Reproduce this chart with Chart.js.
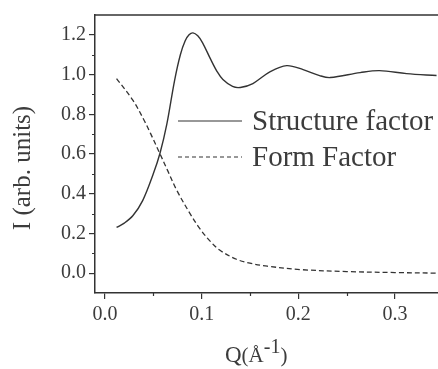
<!DOCTYPE html>
<html lang="en">
<head>
  <meta charset="UTF-8">
  <title>Structure and form factor</title>
  <script src="https://cdn.jsdelivr.net/npm/chart.js"></script>
  <style>
    html, body {
      margin: 0;
      padding: 0;
      background: #fff;
    }
    #wrap {
      width: 438px;
      height: 369px;
    }
  </style>
</head>
<body>

<div id="wrap">
  <canvas id="sqChart" width="438" height="369"></canvas>
</div>

<script>
  // Q values (1/Å) and intensities for each curve
  const qStructure = [0.012, 0.020, 0.029, 0.039, 0.050, 0.057, 0.064, 0.072, 0.078, 0.083, 0.087, 0.091,
    0.096, 0.101, 0.109, 0.116, 0.122, 0.132, 0.140, 0.153, 0.171, 0.188, 0.205, 0.222, 0.233, 0.264, 0.284, 0.312, 0.343];
  const structureFactor = [0.23, 0.252, 0.29, 0.365, 0.50, 0.605, 0.75, 0.97, 1.10, 1.17, 1.20, 1.21,
    1.195, 1.16, 1.08, 1.015, 0.975, 0.94, 0.935, 0.955, 1.015, 1.045, 1.025, 0.995, 0.985, 1.01, 1.02, 1.005, 0.995];

  const qForm = [0.012, 0.029, 0.041, 0.047, 0.057, 0.065, 0.074, 0.088, 0.098, 0.109, 0.119, 0.136,
    0.150, 0.168, 0.202, 0.250, 0.300, 0.345];
  const formFactor = [0.98, 0.87, 0.765, 0.705, 0.60, 0.515, 0.42, 0.30, 0.225, 0.16, 0.115, 0.07,
    0.05, 0.035, 0.018, 0.008, 0.003, 0.0];

  const xMajor = [0.0, 0.1, 0.2, 0.3];
  const xMinor = [0.05, 0.15, 0.25];
  const yMajor = [0.0, 0.2, 0.4, 0.6, 0.8, 1.0, 1.2];
  const yMinor = [0.1, 0.3, 0.5, 0.7, 0.9, 1.1];

  const seriesNames = ["Structure factor", "Form Factor"];

  const INK = "#333";
  const TEXT = "#3c3c3c";
  const SERIF = "'Liberation Serif', 'DejaVu Serif', serif";

  const toPoints = (xs, ys) => xs.map((x, i) => ({ x: x, y: ys[i] }));

  // top frame line, minor ticks, legend and axis titles
  const extras = {
    id: "extras",
    afterDraw(chart) {
      const { ctx, chartArea: a, scales: { x, y } } = chart;
      ctx.save();
      ctx.strokeStyle = INK;
      ctx.lineWidth = 1.5;
      ctx.beginPath();
      ctx.moveTo(a.left, a.top);
      ctx.lineTo(a.right, a.top);
      ctx.stroke();

      ctx.lineWidth = 1.2;
      ctx.beginPath();
      yMinor.forEach(v => {
        const py = Math.round(y.getPixelForValue(v)) + 0.5;
        ctx.moveTo(a.left - 3, py);
        ctx.lineTo(a.left, py);
      });
      xMinor.forEach(v => {
        const px = Math.round(x.getPixelForValue(v)) + 0.5;
        ctx.moveTo(px, a.bottom);
        ctx.lineTo(px, a.bottom + 3);
      });
      ctx.stroke();

      // legend
      const sets = chart.data.datasets;
      const lx0 = a.left + 83, lx1 = a.left + 147;
      const rows = [a.top + 106, a.top + 142];
      ctx.font = "29px " + SERIF;
      ctx.fillStyle = TEXT;
      ctx.textBaseline = "middle";
      ctx.textAlign = "left";
      sets.forEach((ds, i) => {
        ctx.setLineDash(i === 1 ? [4, 3] : []);
        ctx.lineWidth = 1.2;
        ctx.strokeStyle = ds.borderColor;
        ctx.beginPath();
        ctx.moveTo(lx0, rows[i]);
        ctx.lineTo(lx1, rows[i]);
        ctx.stroke();
        ctx.fillText(ds.label, lx1 + 10, rows[i] + 1);
      });
      ctx.setLineDash([]);

      // y title
      ctx.save();
      ctx.translate(23, 168);
      ctx.rotate(-Math.PI / 2);
      ctx.textAlign = "center";
      ctx.font = "25px " + SERIF;
      ctx.fillText("I (arb. units)", 0, 0);
      ctx.restore();

      // x title with superscript
      ctx.textBaseline = "alphabetic";
      ctx.textAlign = "left";
      let tx = 225;
      const base = 362;
      const parts = [
        ["Q", 23, 0],
        ["(Å", 21, 0],
        ["-1", 20, -9],
        [")", 21, 0]
      ];
      parts.forEach(([s, size, dy]) => {
        ctx.font = size + "px " + SERIF;
        ctx.fillText(s, tx, base + dy);
        tx += ctx.measureText(s).width;
      });
      ctx.restore();
    }
  };

  new Chart(document.getElementById("sqChart"), {
    type: "line",
    data: {
      datasets: [
        {
          label: seriesNames[0],
          data: toPoints(qStructure, structureFactor),
          borderColor: INK,
          borderWidth: 1.4,
          pointRadius: 0,
          tension: 0.35,
          fill: false
        },
        {
          label: seriesNames[1],
          data: toPoints(qForm, formFactor),
          borderColor: INK,
          borderWidth: 1.3,
          borderDash: [5, 3],
          pointRadius: 0,
          tension: 0.35,
          fill: false
        }
      ]
    },
    options: {
      responsive: false,
      animation: false,
      layout: { padding: { top: 12, right: 0, bottom: 0, left: 0 } },
      plugins: {
        legend: { display: false },
        tooltip: { enabled: false }
      },
      scales: {
        x: {
          type: "linear",
          min: -0.0103,
          max: 0.3445,
          afterFit: s => { s.height = 76; },
          afterBuildTicks: s => { s.ticks = xMajor.map(v => ({ value: v })); },
          grid: { drawOnChartArea: false, drawTicks: true, tickLength: 6, color: INK, lineWidth: 1.2 },
          border: { display: true, color: INK, width: 1.5 },
          ticks: {
            color: TEXT,
            font: { family: SERIF, size: 20 },
            padding: 4,
            maxRotation: 0,
            callback: v => v.toFixed(1)
          }
        },
        y: {
          type: "linear",
          min: -0.1,
          max: 1.3,
          afterFit: s => { s.width = 95; },
          afterBuildTicks: s => { s.ticks = yMajor.map(v => ({ value: v })); },
          grid: { drawOnChartArea: false, drawTicks: true, tickLength: 6, color: INK, lineWidth: 1.2 },
          border: { display: true, color: INK, width: 1.5 },
          ticks: {
            color: TEXT,
            font: { family: SERIF, size: 20 },
            padding: 3,
            callback: v => v.toFixed(1)
          }
        }
      }
    },
    plugins: [extras]
  });
</script>

</body>
</html>
